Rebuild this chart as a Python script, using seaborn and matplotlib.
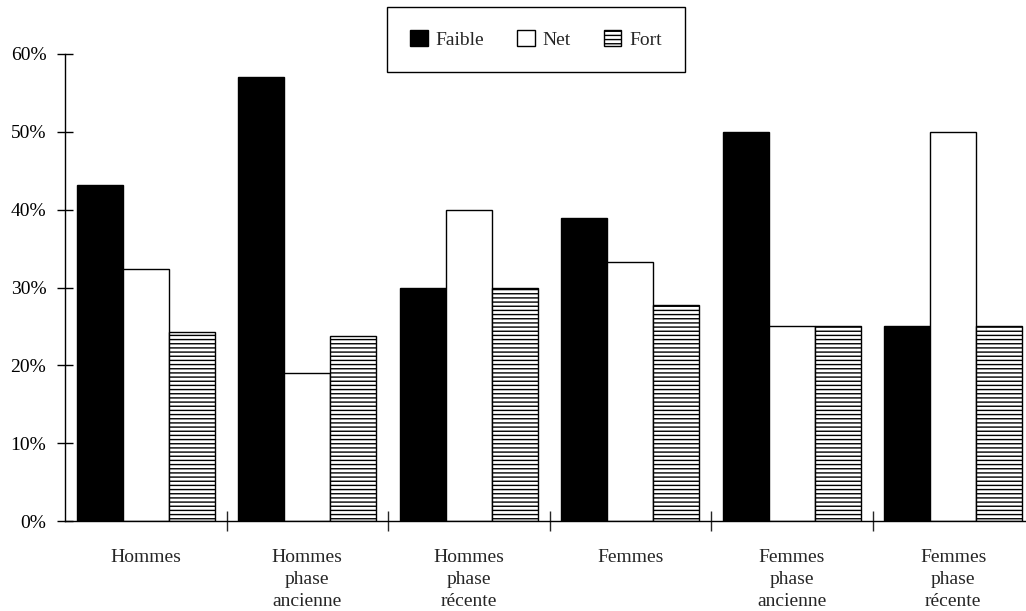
import pandas as pd
import matplotlib.pyplot as plt
import seaborn as sns

# Categories and series (shares, %)
categories = ["Hommes", "Hommes\nphase\nancienne", "Hommes\nphase\nrécente",
              "Femmes", "Femmes\nphase\nancienne", "Femmes\nphase\nrécente"]
series = ["Faible", "Net", "Fort"]
faible = [43.2, 57.1, 30.0, 38.9, 50.0, 25.0]
net = [32.4, 19.0, 40.0, 33.3, 25.0, 50.0]
fort = [24.3, 23.8, 30.0, 27.8, 25.0, 25.0]
y_ticks = [0, 10, 20, 30, 40, 50, 60]

df = pd.DataFrame({
    "cat": categories * 3,
    "serie": [s for s in series for _ in categories],
    "val": faible + net + fort,
})

sns.set_style("white")
plt.rcParams['font.family'] = ['Liberation Serif', 'DejaVu Serif']
plt.rcParams['hatch.linewidth'] = 1.0
plt.rcParams['hatch.color'] = 'black'

fig = plt.figure(figsize=(10.26, 6.11), dpi=100)
ax = fig.add_axes([65 / 1026, 1 - 521 / 611, 969 / 1026, (521 - 54) / 611])

sns.barplot(data=df, x="cat", y="val", hue="serie", hue_order=series,
            palette=["black", "white", "white"], edgecolor="black", linewidth=1,
            width=0.855, gap=0, ax=ax)

# horizontal lines for "Fort"
for p in ax.containers[2].patches:
    p.set_hatch("----")

ax.set_xlim(-0.5, 5.5)
ax.set_ylim(0, 60)
ax.set_yticks(y_ticks)
ax.set_yticklabels([f"{v}%" for v in y_ticks])
ax.set_xlabel("")
ax.set_ylabel("")

for s in ["top", "right"]:
    ax.spines[s].set_visible(False)
for s in ["left", "bottom"]:
    ax.spines[s].set_linewidth(1)
    ax.spines[s].set_color("black")

ax.tick_params(axis="y", direction="inout", length=11, width=1, left=True,
               labelsize=14, pad=8, colors="black")
ax.set_xticks([0.5, 1.5, 2.5, 3.5, 4.5], minor=True)
ax.tick_params(axis="x", which="minor", direction="inout", length=14, width=1, bottom=True)
ax.tick_params(axis="x", which="major", length=0, labelsize=14, pad=20)
for t in ax.get_xticklabels():
    t.set_linespacing(1.38)
    t.set_verticalalignment("top")

ax.legend(ax.containers, series, loc="center", bbox_to_anchor=(536 / 1026, 1 - 39.5 / 611),
          bbox_transform=fig.transFigure, ncol=3, fontsize=14, frameon=True,
          fancybox=False, edgecolor="black", framealpha=1, handlelength=0.9,
          handleheight=0.9, handletextpad=0.4, columnspacing=1.7, borderpad=1.2)
ax.get_legend().get_frame().set_linewidth(1)

plt.savefig("out.png", dpi=100)
